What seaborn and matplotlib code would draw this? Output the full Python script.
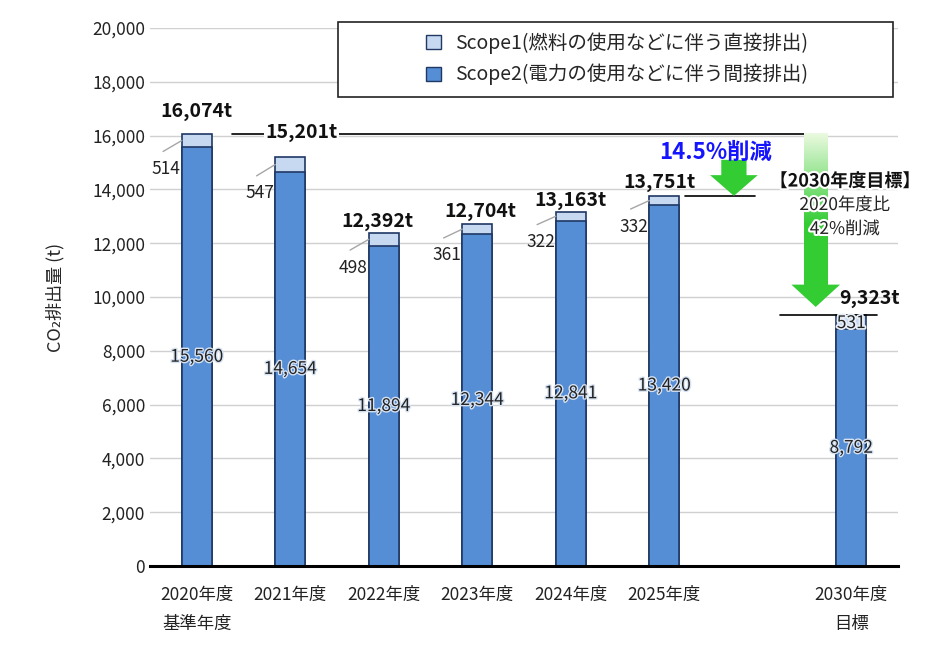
import numpy as np
import pandas as pd
import seaborn as sns
import matplotlib.pyplot as plt
import matplotlib.patheffects as pe
from matplotlib.patches import Patch, Rectangle, Polygon
from matplotlib.ticker import FuncFormatter

# data
years = ["2020年度\n基準年度", "2021年度", "2022年度", "2023年度", "2024年度", "2025年度", "2030年度\n目標"]
scope1 = [514, 547, 498, 361, 322, 332, 531]
scope2 = [15560, 14654, 11894, 12344, 12841, 13420, 8792]
totals = [16074, 15201, 12392, 12704, 13163, 13751, 9323]
slots = years[:6] + [" "] + years[6:]   # empty slot before 2030

sns.set_style("white")
plt.rcParams["font.family"] = ["Noto Sans CJK JP", "DejaVu Sans"]

df = pd.DataFrame({"year": years, "scope1": scope1, "scope2": scope2, "total": totals})
pos = {y: slots.index(y) for y in years}

light = "#C6D9F1"
mid = "#558ED5"
edge = "#1F3864"
green = "#33CC33"

fig = plt.figure(figsize=(9.45, 6.55), dpi=100)
ax = fig.add_axes([150 / 945, 1 - 566 / 655, 748 / 945, 538 / 655])

sns.barplot(data=df, x="year", y="total", order=slots, color=light, edgecolor=edge,
            linewidth=1.2, width=0.32, saturation=1, ax=ax, zorder=3)
sns.barplot(data=df, x="year", y="scope2", order=slots, color=mid, edgecolor=edge,
            linewidth=1.2, width=0.32, saturation=1, ax=ax, zorder=3)

ax.set_xlim(-0.5, 7.5)
ax.set_ylim(0, 20000)
ax.set_yticks(range(0, 20001, 2000))
ax.yaxis.set_major_formatter(FuncFormatter(lambda v, p: f"{int(v):,}"))
ax.grid(axis="y", color="#D0D0D0", linewidth=1, zorder=0)
ax.set_axisbelow(True)
for s in ["top", "right", "left"]:
    ax.spines[s].set_visible(False)
ax.spines["bottom"].set_linewidth(2.2)
ax.spines["bottom"].set_color("black")
ax.spines["bottom"].set_zorder(5)
ax.tick_params(axis="both", length=0, labelsize=12.5, colors="#222222")
ax.tick_params(axis="x", pad=14)
for lab in ax.get_xticklabels():
    lab.set_linespacing(1.85)
    lab.set_verticalalignment("top")
ax.set_xlabel("")
ax.set_ylabel("CO₂排出量 (t)", fontsize=13, labelpad=20)

halo = [pe.withStroke(linewidth=3, foreground="white")]

# value labels
tot_dx = [0.0, 0.12, -0.07, 0.03, 0.0, -0.05, 0.2]
tot_y = [16880, 16100, 12790, 13160, 13580, 14240, 9960]
for i, r in df.iterrows():
    x = pos[r["year"]]
    s1, s2, t = r["scope1"], r["scope2"], r["total"]
    # scope2 inside the bar
    ax.text(x, s2 / 2, f"{s2:,}", ha="center", va="center", fontsize=12.5,
            color="#222222", zorder=6, path_effects=[pe.withStroke(linewidth=2, foreground="#D6E2F2")])
    # total
    kw = dict(ha="center", va="center", fontsize=14, fontweight="bold", color="#111111", zorder=7)
    if i == 1:
        kw["bbox"] = dict(facecolor="white", edgecolor="none", pad=1)
    ax.text(x + tot_dx[i], tot_y[i], f"{t:,}t", **kw)
    # scope1
    if i < 6:
        ax.text(x - 0.17, s2 - 800, f"{s1:,}", ha="right", va="center", fontsize=12.5, color="#222222", zorder=6)
        ax.plot([x - 0.36, x - 0.16], [s2 - 150, s2 + s1 * 0.5], color="#A6A6A6", lw=1, zorder=4)
    else:
        ax.text(x, s2 + s1 * 0.45, f"{s1:,}", ha="center", va="center", fontsize=12.5, color="#222222",
                zorder=6, path_effects=[pe.withStroke(linewidth=2.5, foreground="#E8EEF7")])

# reference lines
ax.plot([0.38, 6.54], [totals[0]] * 2, color="black", lw=1.2, zorder=4)
ax.plot([5.22, 5.97], [totals[5]] * 2, color="black", lw=1.2, zorder=4)
ax.plot([6.24, 7.28], [totals[6]] * 2, color="black", lw=1.2, zorder=4)

# small arrow (14.5% reduction)
ax.add_patch(Polygon([[5.61, 15100], [5.88, 15100], [5.88, 14530], [6.0, 14530], [5.745, 13760],
                      [5.49, 14530], [5.61, 14530]], closed=True, facecolor=green, edgecolor="none", zorder=5))
ax.text(5.55, 15390, "14.5%削減", ha="center", va="center", fontsize=16, fontweight="bold",
        color="#1414FF", zorder=8)

# big arrow (2030 target) with fading shaft
grad = np.linspace(0, 1, 200).reshape(-1, 1)
top_col = np.array([0.92, 0.98, 0.88])
bot_col = np.array([0.2, 0.8, 0.2])
mix = np.clip(grad / 0.6, 0, 1)
shaft = np.ones((200, 1, 4))
shaft[..., :3] = top_col * (1 - mix[..., None]) + bot_col * mix[..., None]
ax.imshow(shaft, extent=[6.495, 6.745, 10450, 16100], aspect="auto", zorder=5, interpolation="bilinear")
ax.add_patch(Polygon([[6.36, 10460], [6.88, 10460], [6.62, 9630]], closed=True,
                     facecolor=green, edgecolor="none", zorder=5))
ax.set_xlim(-0.5, 7.5)
ax.set_ylim(0, 20000)

ax.text(6.93, 14310, "【2030年度目標】", ha="center", va="center", fontsize=13, fontweight="bold",
        color="#111111", zorder=8, path_effects=halo)
ax.text(6.93, 13420, "2020年度比", ha="center", va="center", fontsize=12.5, color="#222222",
        zorder=8, path_effects=halo)
ax.text(6.93, 12530, "42%削減", ha="center", va="center", fontsize=12.5, color="#222222",
        zorder=8, path_effects=halo)

# legend in a framed box
fig.patches.append(Rectangle((338 / 945, 1 - 97 / 655), 555 / 945, 75 / 655, transform=fig.transFigure,
                             facecolor="white", edgecolor="#222222", linewidth=1.2, zorder=10))
handles = [Patch(facecolor=light, edgecolor=edge, label="Scope1(燃料の使用などに伴う直接排出)"),
           Patch(facecolor=mid, edgecolor=edge, label="Scope2(電力の使用などに伴う間接排出)")]
leg = fig.legend(handles=handles, loc="center", bbox_to_anchor=(0.653, 1 - 59 / 655), frameon=False,
                 fontsize=14, handlelength=0.75, handleheight=0.75, labelspacing=0.5, handletextpad=0.7)
leg.set_zorder(12)

fig.savefig("out.png", dpi=100)
